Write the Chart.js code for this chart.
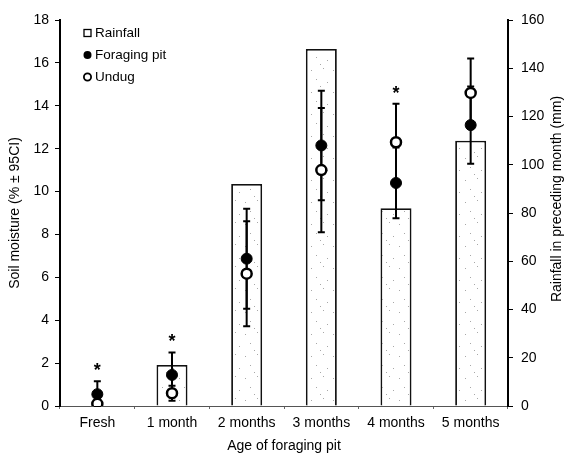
<!DOCTYPE html>
<html>
<head>
<meta charset="utf-8">
<script src="https://cdn.jsdelivr.net/npm/chart.js@4"></script>
<style>body{margin:0;background:#fff}</style>
</head>
<body>
<canvas id="chart" width="568" height="461"></canvas>
<script>
const categories = ["Fresh", "1 month", "2 months", "3 months", "4 months", "5 months"];
const rainfall = [0, 17, 92, 148, 82, 110];
const foragingPit = [0.55, 1.45, 6.87, 12.15, 10.4, 13.1];
const foragingCI = [0.6, 1.05, 2.33, 2.55, 1.65, 1.8];
const undug = [0.1, 0.6, 6.17, 11.0, 12.3, 14.6];
const undugCI = [0.1, 0.35, 2.45, 2.9, 1.8, 1.6];
const significant = [true, true, false, false, true, false];

const FONT = "'Liberation Sans', Arial, sans-serif";
const tickFont = { family: FONT, size: 14 };

// sparse stippled fill for the rainfall bars
function stipple() {
  const c = document.createElement("canvas");
  c.width = 22; c.height = 22;
  const g = c.getContext("2d");
  g.fillStyle = "#fff";
  g.fillRect(0, 0, 22, 22);
  g.fillStyle = "#a8a8a8";
  [[3, 4], [15, 2], [8, 13], [19, 16], [12, 20]].forEach(p => g.fillRect(p[0], p[1], 1, 1));
  return g.createPattern(c, "repeat");
}

const ciByDataset = { 1: foragingCI, 2: undugCI };

const errorBars = {
  id: "errorBars",
  beforeDatasetDraw(chart, args) {
    const ci = ciByDataset[args.index];
    if (!ci) return;
    const ctx = chart.ctx;
    const y = chart.scales.y;
    const x = chart.scales.x;
    const vals = chart.data.datasets[args.index].data;
    ctx.save();
    ctx.strokeStyle = "#000";
    ctx.lineWidth = 2;
    vals.forEach((v, i) => {
      const px = x.getPixelForValue(i);
      const top = y.getPixelForValue(v + ci[i]);
      const bot = y.getPixelForValue(Math.max(0, v - ci[i]));
      ctx.beginPath();
      ctx.moveTo(px, top); ctx.lineTo(px, bot);
      ctx.moveTo(px - 3.5, top); ctx.lineTo(px + 3.5, top);
      ctx.moveTo(px - 3.5, bot); ctx.lineTo(px + 3.5, bot);
      ctx.stroke();
    });
    ctx.restore();
  }
};

const extras = {
  id: "extras",
  afterDraw(chart) {
    const ctx = chart.ctx;
    const y = chart.scales.y;
    const x = chart.scales.x;
    ctx.save();
    ctx.fillStyle = "#000";
    ctx.textBaseline = "middle";

    // significance stars
    ctx.font = "bold 18px " + FONT;
    ctx.textAlign = "center";
    significant.forEach((s, i) => {
      if (!s) return;
      const top = Math.max(foragingPit[i] + foragingCI[i], undug[i] + undugCI[i]);
      ctx.fillText("*", x.getPixelForValue(i), y.getPixelForValue(top) - 10);
    });

    // axis titles
    ctx.font = "14px " + FONT;
    ctx.fillText("Age of foraging pit", 284, 446);
    ctx.save();
    ctx.translate(15, 213);
    ctx.rotate(-Math.PI / 2);
    ctx.fillText("Soil moisture (% \u00b1 95CI)", 0, 0);
    ctx.restore();
    ctx.save();
    ctx.translate(557, 199);
    ctx.rotate(-Math.PI / 2);
    ctx.fillText("Rainfall in preceding month (mm)", 0, 0);
    ctx.restore();

    // legend
    ctx.textAlign = "left";
    ctx.font = "13.5px " + FONT;
    ctx.strokeStyle = "#000";
    ctx.lineWidth = 1.3;
    ctx.strokeRect(84, 29.5, 7, 7);
    ctx.fillText("Rainfall", 95, 33);
    ctx.beginPath(); ctx.arc(87.5, 55, 4, 0, Math.PI * 2); ctx.fill();
    ctx.fillText("Foraging pit", 95, 55);
    ctx.lineWidth = 1.8;
    ctx.beginPath(); ctx.arc(87.5, 77, 3.6, 0, Math.PI * 2); ctx.stroke();
    ctx.fillText("Undug", 95, 77);
    ctx.restore();
  }
};

new Chart(document.getElementById("chart"), {
  data: {
    labels: categories,
    datasets: [
      {
        type: "bar",
        label: "Rainfall",
        data: rainfall,
        yAxisID: "y1",
        backgroundColor: stipple(),
        borderColor: "#111",
        borderWidth: 1.8,
        barPercentage: 0.415,
        categoryPercentage: 1,
        order: 3
      },
      {
        type: "line",
        label: "Foraging pit",
        data: foragingPit,
        yAxisID: "y",
        showLine: false,
        pointRadius: 5.5,
        pointBackgroundColor: "#000",
        pointBorderColor: "#000",
        pointBorderWidth: 1,
        order: 2
      },
      {
        type: "line",
        label: "Undug",
        data: undug,
        yAxisID: "y",
        showLine: false,
        pointRadius: 5,
        pointBackgroundColor: "#fff",
        pointBorderColor: "#000",
        pointBorderWidth: 2.5,
        order: 1
      }
    ]
  },
  options: {
    responsive: false,
    animation: false,
    layout: { padding: { top: 20, left: 0, right: 0, bottom: 0 } },
    plugins: { legend: { display: false }, tooltip: { enabled: false } },
    scales: {
      x: {
        afterFit: s => { s.height = 55; },
        grid: { display: true, offset: true, drawOnChartArea: false, drawTicks: true, tickLength: 3, color: "#666", lineWidth: 1 },
        border: { display: true, color: "#555", width: 1, dash: [2, 2] },
        ticks: { color: "#000", font: tickFont, padding: 6, maxRotation: 0 }
      },
      y: {
        position: "left",
        min: 0, max: 18,
        afterFit: s => { s.width = 60; },
        grid: { drawOnChartArea: false, drawTicks: true, tickLength: 5, color: "#000" },
        border: { color: "#000", width: 2 },
        ticks: { stepSize: 2, color: "#000", font: tickFont, padding: 6 }
      },
      y1: {
        position: "right",
        min: 0, max: 160,
        afterFit: s => { s.width = 60; },
        grid: { drawOnChartArea: false, drawTicks: true, tickLength: 5, color: "#000" },
        border: { color: "#000", width: 2 },
        ticks: { stepSize: 20, color: "#000", font: tickFont, padding: 8 }
      }
    }
  },
  plugins: [errorBars, extras]
});
</script>
</body>
</html>
